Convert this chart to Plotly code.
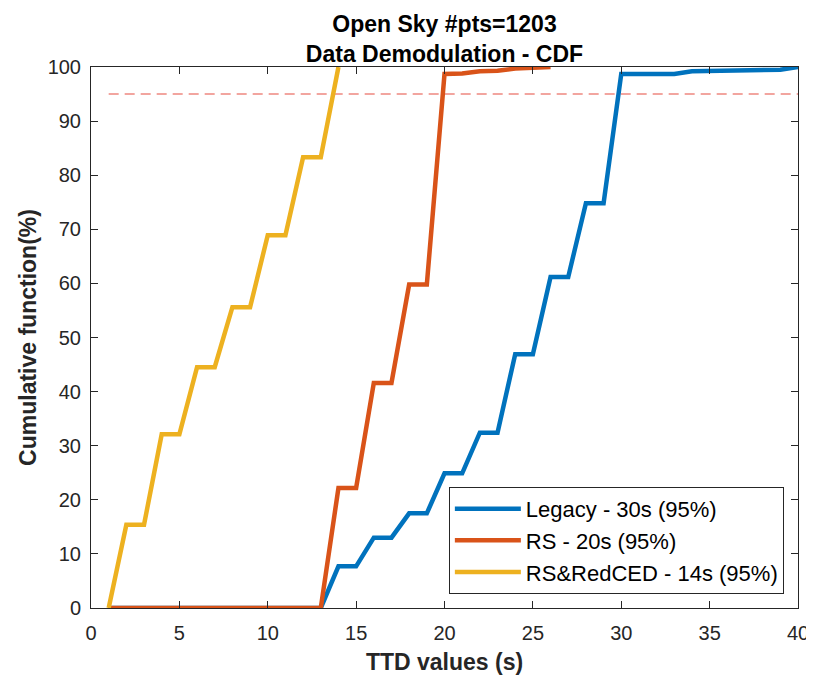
import plotly.graph_objects as go

ttd_legacy = [1, 13, 14, 15, 16, 17, 18, 19, 20, 21, 22, 23, 24, 25, 26, 27, 28, 29, 30, 31, 32, 33, 34, 35, 36, 37, 38, 39, 40]
cdf_legacy = [0, 0, 7.7, 7.7, 13, 13, 17.5, 17.5, 24.9, 24.9, 32.4, 32.4, 46.9, 46.9, 61.2, 61.2, 74.8, 74.8, 98.7, 98.7, 98.7, 98.7, 99.2, 99.3, 99.4, 99.5, 99.5, 99.5, 100]

ttd_rs = [1, 13, 14, 15, 16, 17, 18, 19, 20, 21, 22, 23, 24, 25, 26]
cdf_rs = [0, 0, 22.2, 22.2, 41.6, 41.6, 59.8, 59.8, 98.7, 98.8, 99.2, 99.3, 99.7, 99.8, 100]

ttd_red = [1, 2, 3, 4, 5, 6, 7, 8, 9, 10, 11, 12, 13, 14]
cdf_red = [0, 15.4, 15.4, 32.1, 32.1, 44.5, 44.5, 55.6, 55.6, 68.9, 68.9, 83.3, 83.3, 100]

thr_x = [1, 40]
thr_y = [95, 95]

x_ticks = [0, 5, 10, 15, 20, 25, 30, 35, 40]
y_ticks = [0, 10, 20, 30, 40, 50, 60, 70, 80, 90, 100]

names = ["Legacy - 30s (95%)", "RS - 20s (95%)", "RS&RedCED - 14s (95%)"]
colors = ["#0072BD", "#D95319", "#EDB120"]

FONT = "Liberation Sans, Arial, sans-serif"

fig = go.Figure()
fig.add_trace(go.Scatter(x=thr_x, y=thr_y, mode="lines", showlegend=False,
                         line=dict(color="rgba(235,115,105,0.85)", width=1.6, dash="10px,6px")))
for xs, ys, n, c in zip([ttd_legacy, ttd_rs, ttd_red], [cdf_legacy, cdf_rs, cdf_red], names, colors):
    fig.add_trace(go.Scatter(x=xs, y=ys, mode="lines", name=n, line=dict(color=c, width=4.5)))

axis_common = dict(showline=True, linecolor="#262626", linewidth=1, mirror="ticks",
                   ticks="inside", ticklen=7, tickcolor="#262626", showgrid=False, zeroline=False,
                   automargin=False,
                   tickfont=dict(family=FONT, size=20, color="#262626"))

# the page body adds an 8px margin, so the figure is 8px smaller and margins are shifted
fig.update_layout(
    width=806, height=669,
    margin=dict(l=83, r=16, t=59, b=69),
    paper_bgcolor="white", plot_bgcolor="white",
    title=dict(text="<b>Open Sky #pts=1203</b><br><b>Data Demodulation - CDF</b>",
               x=(83 + 790) / 2 / 806, xanchor="center", yref="container", y=0.964, yanchor="top",
               font=dict(family=FONT, size=23, color="#000000")),
    xaxis=dict(range=[0, 40], tickvals=x_ticks, ticklabelstandoff=7,
               title=dict(text="<b>TTD values (s)</b>", standoff=10,
                          font=dict(family=FONT, size=23, color="#262626")),
               **axis_common),
    yaxis=dict(range=[0, 100], tickvals=y_ticks, ticklabelstandoff=5,
               title=dict(text="<b>Cumulative function(%)</b>", standoff=4,
                          font=dict(family=FONT, size=23, color="#262626")),
               **axis_common),
    legend=dict(x=0.98, y=0.026, xanchor="right", yanchor="bottom",
                bordercolor="#262626", borderwidth=1, bgcolor="white",
                font=dict(family=FONT, size=22, color="#000000"),
                itemwidth=66, tracegroupgap=0),
    showlegend=True,
)

fig.write_html("out.html")
